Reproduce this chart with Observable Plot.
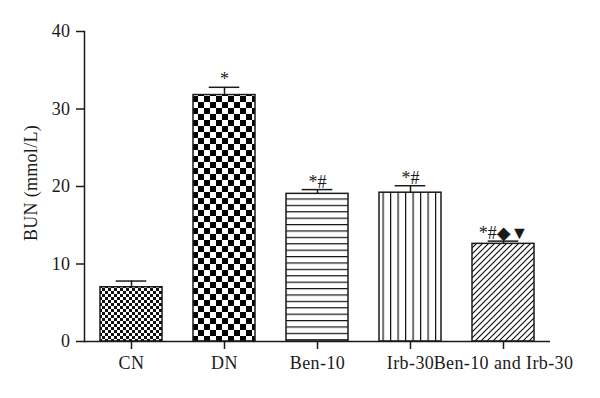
<!DOCTYPE html>
<html>
<head>
<meta charset="utf-8">
<script src="https://cdn.jsdelivr.net/npm/d3@7"></script>
<script src="https://cdn.jsdelivr.net/npm/@observablehq/plot@0.6"></script>
<style>
  html, body { margin: 0; padding: 0; background: #fff; }
  #chart { width: 600px; height: 398px; }
  #chart svg g[aria-label="x-axis tick label"] text,
  #chart svg g[aria-label="y-axis tick label"] text { letter-spacing: 0.4px; }
</style>
</head>
<body>
<div id="chart"></div>
<script>
const categories = ["CN", "DN", "Ben-10", "Irb-30", "Ben-10 and Irb-30"];
const means = [7.0, 31.8, 19.05, 19.2, 12.6];
const errors = [0.8, 1.0, 0.55, 0.9, 0.35];
const annotations = ["", "*", "*#", "*#", "*#\u25C6\u25BC"];
const patterns = ["url(#pCN)", "url(#pDN)", "url(#pBen)", "url(#pIrb)", "url(#pCombo)"];
const yTicks = [0, 10, 20, 30, 40];

const data = categories.map((c, i) => ({
  cat: c, mean: means[i], top: means[i] + errors[i], note: annotations[i], pat: patterns[i]
}));

const ink = "#1a1a1a";
const font = "'Liberation Serif', 'DejaVu Serif', serif";

const plot = Plot.plot({
  width: 600,
  height: 398,
  marginLeft: 84,
  marginRight: 50,
  marginTop: 31,
  marginBottom: 57,
  style: { fontFamily: font, fontSize: "18px", color: ink, background: "#fff" },
  x: { domain: categories, paddingInner: 0.33, paddingOuter: 0.165, label: null },
  y: { domain: [0, 40], label: null },
  color: { type: "identity" },
  marks: [
    Plot.barY(data, { x: "cat", y: "mean", fill: "pat", stroke: ink, strokeWidth: 1.5 }),
    Plot.ruleX(data, { x: "cat", y1: "mean", y2: "top", stroke: ink, strokeWidth: 1.5 }),
    Plot.tickY(data, { x: "cat", y: "top", stroke: ink, strokeWidth: 1.5, insetLeft: 15.7, insetRight: 15.7 }),
    Plot.text(data, { x: "cat", y: "top", text: "note", dy: -2, lineAnchor: "bottom", fontSize: 18, fill: ink }),
    Plot.axisY({ ticks: yTicks, tickSize: 8, tickPadding: 6, fontSize: 18, stroke: ink, strokeWidth: 1.5, label: null }),
    Plot.axisX({ tickSize: 8, tickPadding: 7, fontSize: 18, stroke: ink, strokeWidth: 1.5, label: null }),
    Plot.frame({ anchor: "left", stroke: ink, strokeWidth: 1.5 }),
    Plot.ruleY([0], { stroke: ink, strokeWidth: 1.5 })
  ]
});

// Pattern definitions used as bar fills
const ns = "http://www.w3.org/2000/svg";
const defs = document.createElementNS(ns, "defs");
defs.innerHTML = `
  <pattern id="pCN" patternUnits="userSpaceOnUse" width="6" height="6">
    <rect width="6" height="6" fill="#fff"/>
    <rect x="0" y="0" width="3" height="3" fill="#111"/>
    <rect x="3" y="3" width="3" height="3" fill="#111"/>
  </pattern>
  <pattern id="pDN" patternUnits="userSpaceOnUse" width="12" height="12">
    <rect width="12" height="12" fill="#fff"/>
    <rect x="0" y="0" width="6" height="6" fill="#000"/>
    <rect x="6" y="6" width="6" height="6" fill="#000"/>
  </pattern>
  <pattern id="pBen" patternUnits="userSpaceOnUse" width="10" height="6.4">
    <rect width="10" height="6.4" fill="#fff"/>
    <line x1="0" y1="0.6" x2="10" y2="0.6" stroke="#111" stroke-width="1.2"/>
  </pattern>
  <pattern id="pIrb" patternUnits="userSpaceOnUse" width="7.5" height="10">
    <rect width="7.5" height="10" fill="#fff"/>
    <line x1="0.6" y1="0" x2="0.6" y2="10" stroke="#111" stroke-width="1.2"/>
  </pattern>
  <pattern id="pCombo" patternUnits="userSpaceOnUse" width="6" height="6">
    <rect width="6" height="6" fill="#fff"/>
    <path d="M0,6 L6,0 M-1,1 L1,-1 M5,7 L7,5" stroke="#111" stroke-width="1.2"/>
  </pattern>`;
plot.insertBefore(defs, plot.firstChild);

document.getElementById("chart").appendChild(plot);

// Rotated y-axis title as real text
const title = document.createElementNS(ns, "text");
title.setAttribute("transform", "translate(37,183) rotate(-90)");
title.setAttribute("text-anchor", "middle");
title.setAttribute("font-family", font);
title.setAttribute("font-size", "18");
title.setAttribute("letter-spacing", "0.3");
title.setAttribute("fill", ink);
title.textContent = "BUN (mmol/L)";
plot.appendChild(title);
</script>
</body>
</html>
